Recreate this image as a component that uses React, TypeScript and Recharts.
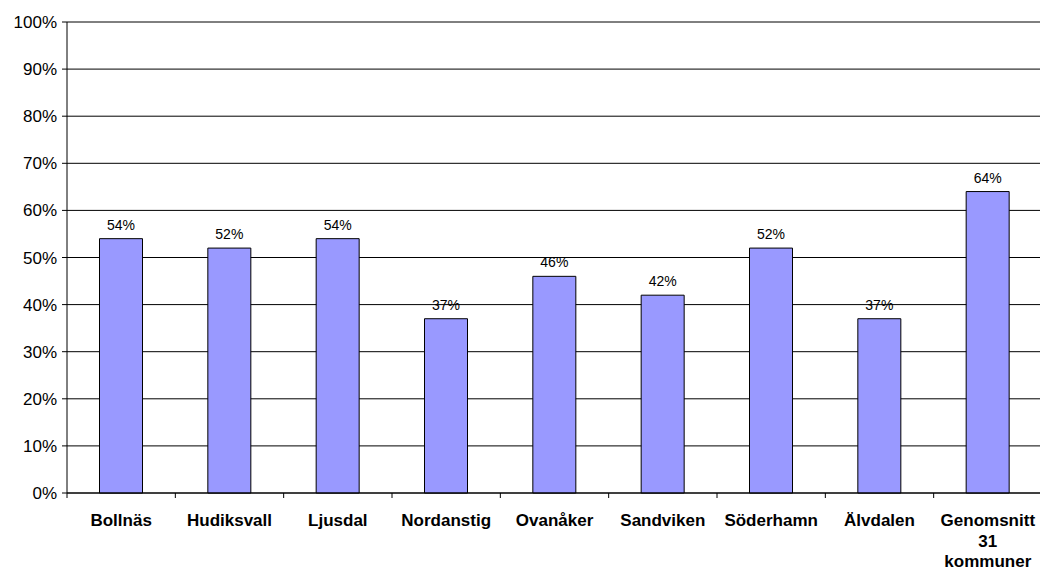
import React from 'react';
import { BarChart, Bar, XAxis, YAxis, CartesianGrid, LabelList } from 'recharts';

const categories = ['Bollnäs', 'Hudiksvall', 'Ljusdal', 'Nordanstig', 'Ovanåker', 'Sandviken', 'Söderhamn', 'Älvdalen', 'Genomsnitt 31 kommuner'];
const values = [54, 52, 54, 37, 46, 42, 52, 37, 64];
const yTicks = [0, 10, 20, 30, 40, 50, 60, 70, 80, 90, 100];

const data = categories.map((name, i) => ({ name, value: values[i] }));

const W = 1044;
const H = 572;
const margin = { top: 22, right: 2, left: 7, bottom: 0 };
const yAxisWidth = 60;
const plotWidth = W - margin.left - margin.right - yAxisWidth;
const band = plotWidth / categories.length;
const FONT = '"Liberation Sans", Arial, sans-serif';

const XTick = (props: any) => {
  const { x, y, payload, index } = props;
  const label: string = String(payload.value);
  const lines = label.length > 12 ? label.split(' ') : [label];
  const isLast = index === categories.length - 1;
  return (
    <g>
      <line x1={x - band / 2} x2={x - band / 2} y1={y} y2={y + 5} stroke="#000" strokeWidth={1} />
      {isLast && <line x1={x + band / 2} x2={x + band / 2} y1={y} y2={y + 5} stroke="#000" strokeWidth={1} />}
      <text x={x} y={y + 33} textAnchor="middle" fontFamily={FONT} fontSize={17} fontWeight="bold" fill="#000">
        {lines.map((l, i) => (
          <tspan key={i} x={x} dy={i === 0 ? 0 : 20.5}>{l}</tspan>
        ))}
      </text>
    </g>
  );
};

export default function App() {
  return (
    <div style={{ position: 'absolute', left: 0, top: 0, width: 1040, height: 572, overflow: 'hidden', background: '#fff' }}>
      <BarChart width={W} height={H} data={data} margin={margin} barCategoryGap="30%">
        <CartesianGrid horizontal={true} vertical={false} stroke="#000" strokeWidth={1} />
        <XAxis
          dataKey="name"
          height={79}
          tickLine={false}
          tickSize={0}
          tickMargin={0}
          axisLine={{ stroke: '#000' }}
          interval={0}
          tick={<XTick />}
        />
        <YAxis
          width={yAxisWidth}
          domain={[0, 100]}
          ticks={yTicks}
          interval={0}
          tickFormatter={(v: number) => `${v}%`}
          tickSize={5}
          tickMargin={5}
          axisLine={{ stroke: '#000' }}
          tickLine={{ stroke: '#000' }}
          tick={{ fill: '#000', fontSize: 17, fontFamily: FONT }}
        />
        <Bar dataKey="value" fill="#9999FF" stroke="#000" strokeWidth={1} isAnimationActive={false}>
          <LabelList
            dataKey="value"
            position="top"
            offset={9}
            formatter={(v: any) => `${v}%`}
            style={{ fill: '#000', fontSize: 14, fontFamily: FONT }}
          />
        </Bar>
      </BarChart>
    </div>
  );
}
